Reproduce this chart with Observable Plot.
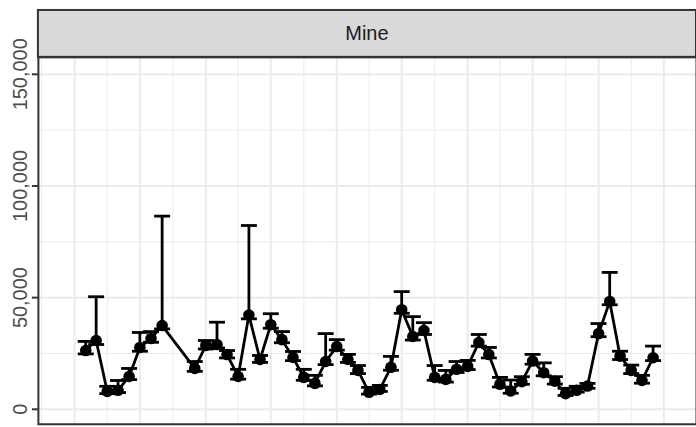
<!DOCTYPE html>
<html><head><meta charset="utf-8">
<script src="https://cdn.jsdelivr.net/npm/d3@7"></script>
<script src="https://cdn.jsdelivr.net/npm/@observablehq/plot@0.6"></script>
<style>
body{margin:0;background:#fff;}
#wrap{width:696px;height:427px;overflow:hidden;position:relative;}
</style></head><body><div id="wrap"></div>
<script>
const panel = "Mine";
const months = [
  "2016-02-01","2016-03-01","2016-04-01","2016-05-01","2016-06-01","2016-07-01","2016-08-01","2016-09-01",
  "2016-12-01",
  "2017-01-01","2017-02-01","2017-03-01","2017-04-01","2017-05-01","2017-06-01","2017-07-01","2017-08-01","2017-09-01","2017-10-01","2017-11-01","2017-12-01",
  "2018-01-01","2018-02-01","2018-03-01","2018-04-01","2018-05-01","2018-06-01","2018-07-01","2018-08-01","2018-09-01","2018-10-01","2018-11-01","2018-12-01",
  "2019-01-01","2019-02-01","2019-03-01","2019-04-01","2019-05-01","2019-06-01","2019-07-01","2019-08-01","2019-09-01","2019-10-01","2019-11-01","2019-12-01",
  "2020-01-01","2020-02-01","2020-03-01","2020-04-01","2020-05-01","2020-06-01"
];
const values = [26300,30800,8000,8500,14700,27700,31700,37500,
  18300,
  28600,29000,24500,14700,42200,22300,37900,31200,23200,14300,11600,21400,
  28100,22300,17400,7600,8900,18800,44600,32600,35300,14300,13400,17900,
  19200,29900,24500,11200,8200,12400,21600,16400,12600,7000,8500,10400,
  33900,48300,23800,17400,12900,23100];
const upper = [30400,50400,10300,12900,18300,34400,34800,86500,
  21400,
  30800,39000,26300,17900,82300,24100,42800,34800,25900,17900,15200,33900,
  31200,24600,19600,9800,10700,23700,52700,41500,38800,19600,17400,21400,
  21900,33500,27700,14300,13100,14600,24600,20800,14600,9400,10300,11600,
  38400,61300,26000,19800,15200,28300];
const lower = [24800,29000,7000,7500,13300,26000,30000,36000,
  17000,
  27000,27500,23000,13500,40500,21000,36300,29800,21800,13000,10500,20000,
  26500,21000,16000,6800,8000,17500,43000,31000,33500,13000,12200,16500,
  17800,28300,23000,10000,7200,11200,20200,15000,11300,6200,7700,9400,
  32500,46800,22300,16000,11700,21800];
const yTicks = [0, 50000, 100000, 150000];
const yMinor = [25000, 75000, 125000];

const parse = d3.utcParse("%Y-%m-%d");
const data = months.map((m, i) => ({date: parse(m), value: values[i], hi: upper[i], lo: lower[i]}));

const xDomain = [parse("2015-09-22"), parse("2020-09-30")];
const majorX = d3.utcMonth.every(6).range(xDomain[0], xDomain[1]);
const minorX = d3.utcMonth.every(3).range(xDomain[0], xDomain[1]).filter(d => d.getUTCMonth() % 6 === 3);

const cap = {draw(ctx, size) { const w = Math.sqrt(size / Math.PI); ctx.moveTo(-w, 0); ctx.lineTo(w, 0); }};

const W = 698, H = 427, ML = 38, MT = 57, MB = 2;
const LW = 2.8;
const chart = Plot.plot({
  width: W, height: H,
  marginLeft: ML, marginRight: 0, marginTop: MT, marginBottom: MB,
  style: {fontFamily: "'Liberation Sans', Arial, Helvetica, sans-serif", background: "#fff"},
  x: {type: "utc", domain: xDomain, axis: null},
  y: {domain: [-6700, 157600], axis: null},
  marks: [
    Plot.ruleY(yMinor, {stroke: "#EBEBEB", strokeWidth: 1}),
    Plot.ruleX(minorX, {stroke: "#EBEBEB", strokeWidth: 1}),
    Plot.ruleY(yTicks, {stroke: "#EBEBEB", strokeWidth: 2}),
    Plot.ruleX(majorX, {stroke: "#EBEBEB", strokeWidth: 2}),
    Plot.ruleX(data, {x: "date", y1: "lo", y2: "hi", stroke: "black", strokeWidth: LW}),
    Plot.dot(data, {x: "date", y: "hi", symbol: cap, r: 8, stroke: "black", strokeWidth: LW, fill: "none"}),
    Plot.dot(data, {x: "date", y: "lo", symbol: cap, r: 8, stroke: "black", strokeWidth: LW, fill: "none"}),
    Plot.line(data, {x: "date", y: "value", stroke: "black", strokeWidth: LW}),
    Plot.dot(data, {x: "date", y: "value", r: 5.8, fill: "black", stroke: "none"}),
    Plot.frame({stroke: "#333333", strokeWidth: 2}),
    Plot.axisY({ticks: yTicks, tickFormat: d3.format(","), tickRotate: -90, tickSize: 6, tickPadding: 5,
      fontSize: 20, fill: "#4D4D4D", stroke: "#333333", strokeWidth: 2})
  ]
});

const svg = d3.select(chart);
svg.append("rect").attr("x", ML).attr("y", 10).attr("width", W - ML).attr("height", MT - 10)
  .attr("fill", "#D9D9D9").attr("stroke", "#333333").attr("stroke-width", 2);
svg.append("text").attr("x", ML + (W - ML) / 2).attr("y", 10 + (MT - 10) / 2)
  .attr("text-anchor", "middle").attr("dominant-baseline", "central")
  .attr("font-size", 20).attr("fill", "#1A1A1A").text(panel);

document.getElementById("wrap").appendChild(chart);
</script>
</body></html>
